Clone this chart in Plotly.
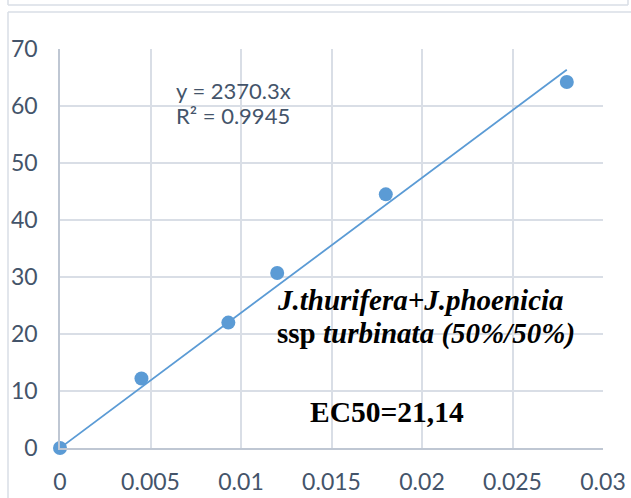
import plotly.graph_objects as go

# Data
conc = [0, 0.0045, 0.0093, 0.012, 0.018, 0.028]
inhibition = [0, 12.2, 22.0, 30.7, 44.5, 64.2]
slope = 2370.3
x_ticks = [0, 0.005, 0.01, 0.015, 0.02, 0.025, 0.03]
x_tick_labels = ["0", "0.005", "0.01", "0.015", "0.02", "0.025", "0.03"]
y_ticks = [0, 10, 20, 30, 40, 50, 60, 70]

trend_x = [0, max(conc)]
trend_y = [slope * v for v in trend_x]

blue = "#5B9BD5"
grid = "#D9DEE6"
axis_line = "#BFC7D3"
tick_col = "#44546A"

fig = go.Figure()
fig.add_trace(go.Scatter(x=trend_x, y=trend_y, mode="lines",
                         line=dict(color=blue, width=1.8), hoverinfo="skip",
                         cliponaxis=False))
fig.add_trace(go.Scatter(x=conc, y=inhibition, mode="markers",
                         marker=dict(color=blue, size=14, line=dict(width=0)),
                         cliponaxis=False))

fig.update_layout(
    width=631, height=498,
    margin=dict(l=60, r=28, t=49, b=50),
    paper_bgcolor="white", plot_bgcolor="white",
    showlegend=False,
    font=dict(family="Lato", size=23, color=tick_col),
    xaxis=dict(range=[0, 0.03], tickvals=x_ticks, ticktext=x_tick_labels,
               showgrid=True, gridcolor=grid, gridwidth=1.5, automargin=False,
               zeroline=False, showline=True, linecolor=axis_line, linewidth=1.5,
               mirror=False, ticks="", ticklen=0, ticklabelstandoff=13,
               tickfont=dict(size=23, color=tick_col)),
    yaxis=dict(range=[0, 70], tickvals=y_ticks, automargin=False,
               showgrid=True, gridcolor=grid, gridwidth=1.5,
               zeroline=False, showline=True, linecolor=axis_line, linewidth=1.5,
               ticks="", ticklen=0, ticklabelstandoff=16,
               tickfont=dict(size=23, color=tick_col)),
)

# chart area frames
frame = "#D9DEE6"
fig.add_shape(type="line", xref="paper", yref="paper",
              x0=(8 - 60) / 543, x1=(628 - 60) / 543, y0=(448 - 5) / 399, y1=(448 - 5) / 399,
              line=dict(color=frame, width=1.5))
for xp in (8, 628):
    fig.add_shape(type="line", xref="paper", yref="paper",
                  x0=(xp - 60) / 543, x1=(xp - 60) / 543, y0=(448 - 5) / 399, y1=(448 + 2) / 399,
                  line=dict(color=frame, width=1.5))
fig.add_shape(type="line", xref="paper", yref="paper",
              x0=(8 - 60) / 543, x1=(640 - 60) / 543, y0=(448 - 12) / 399, y1=(448 - 12) / 399,
              line=dict(color=frame, width=1.5))
fig.add_shape(type="line", xref="paper", yref="paper",
              x0=(8 - 60) / 543, x1=(8 - 60) / 543, y0=(448 - 12) / 399, y1=(448 - 510) / 399,
              line=dict(color=frame, width=1.5))

# trendline label
fig.add_annotation(xref="paper", yref="paper", x=(174 - 60) / 543, y=(448 - 90) / 399,
                   xanchor="left", yanchor="middle", showarrow=False, align="left",
                   text="y = 2370.3x", font=dict(family="Lato", size=22, color=tick_col))
fig.add_annotation(xref="paper", yref="paper", x=(174 - 60) / 543, y=(448 - 115) / 399,
                   xanchor="left", yanchor="middle", showarrow=False, align="left",
                   text="R² = 0.9945", font=dict(family="Lato", size=22, color=tick_col))

times = "Liberation Serif"
fig.add_annotation(xref="paper", yref="paper", x=(275 - 60) / 543, y=(448 - 300) / 399,
                   xanchor="left", yanchor="middle", showarrow=False, align="left",
                   text="<b><i>J.thurifera+J.phoenicia</i></b>",
                   font=dict(family=times, size=29, color="black"))
fig.add_annotation(xref="paper", yref="paper", x=(275 - 60) / 543, y=(448 - 333) / 399,
                   xanchor="left", yanchor="middle", showarrow=False, align="left",
                   text="<b>ssp <i>turbinata (50%/50%)</i></b>",
                   font=dict(family=times, size=29, color="black"))
fig.add_annotation(xref="paper", yref="paper", x=(308 - 60) / 543, y=(448 - 412) / 399,
                   xanchor="left", yanchor="middle", showarrow=False, align="left",
                   text="<b>EC50=21,14</b>",
                   font=dict(family=times, size=29.5, color="black"))

fig.write_html("out.html")
